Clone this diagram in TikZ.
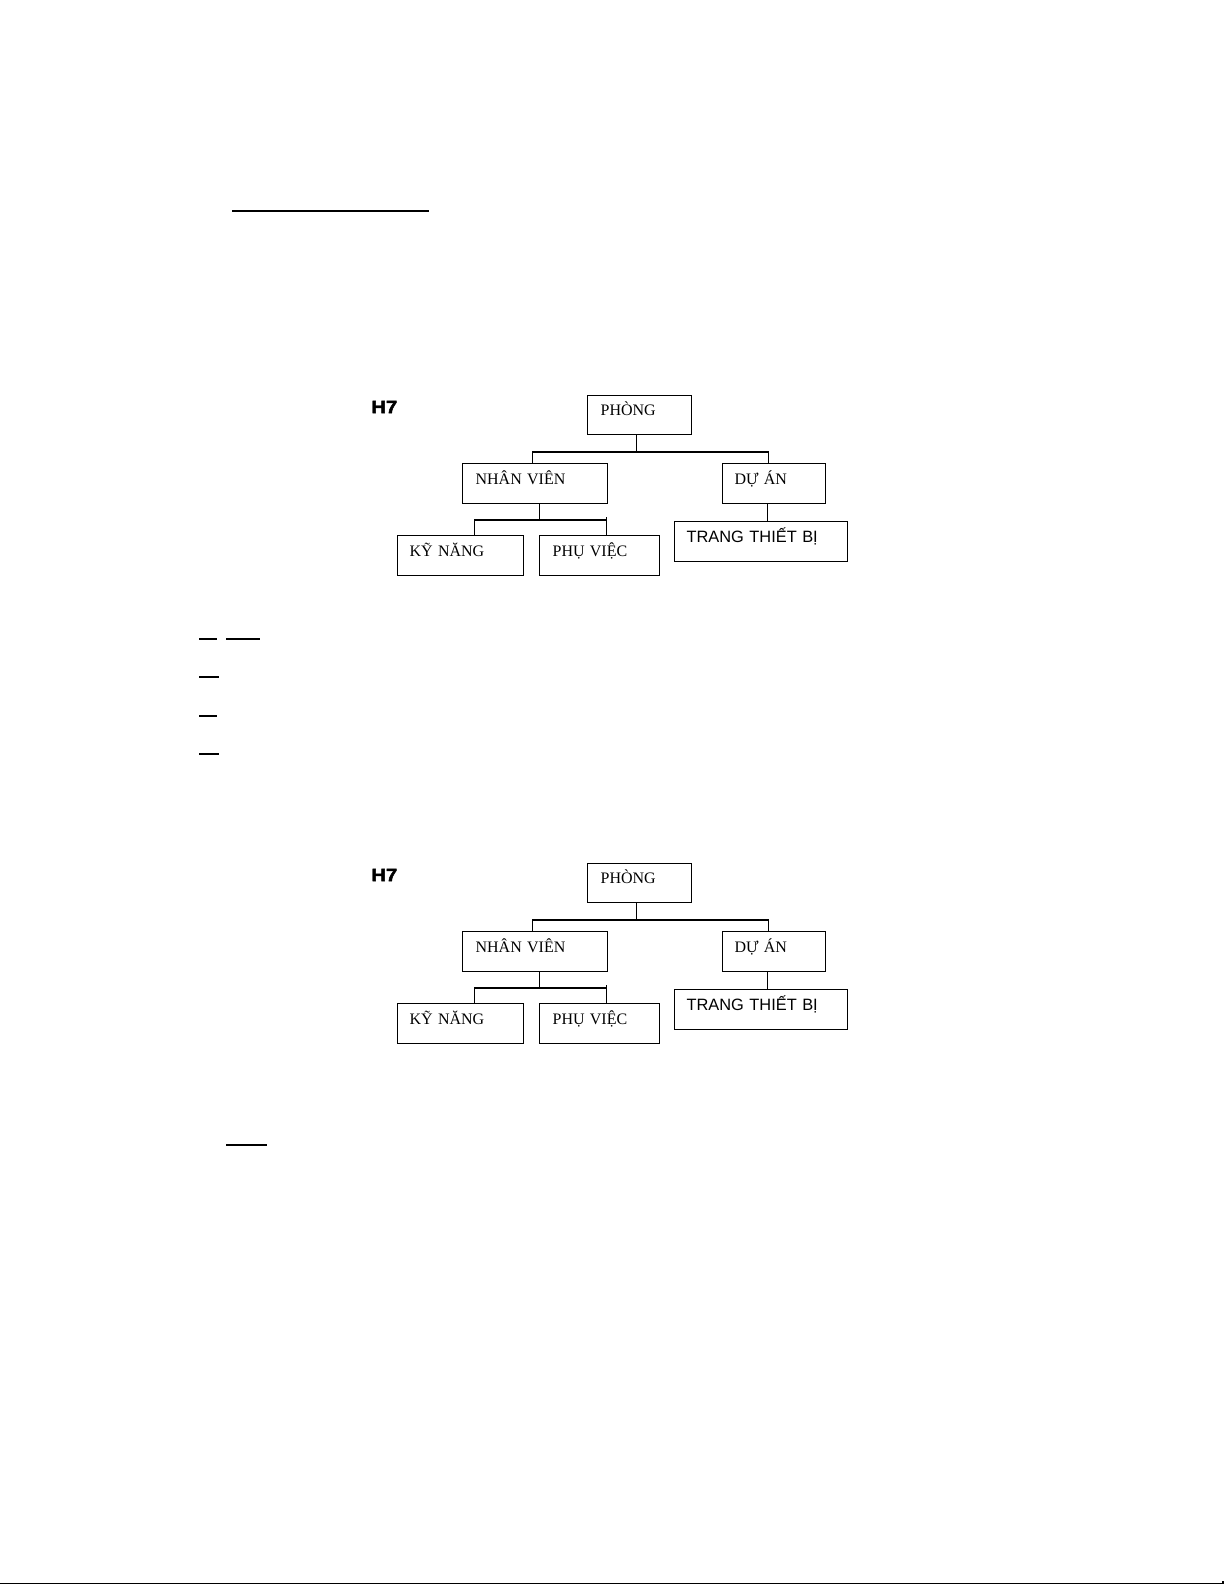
\documentclass[tikz,border=0pt]{standalone}
\usepackage{fontspec}
\setmainfont{Liberation Serif}
\newfontfamily\arialf{Liberation Sans}
\usetikzlibrary{calc}
\tikzset{
  box/.style={draw, line width=0.6pt, anchor=north west, inner ysep=0pt, align=left,
    minimum height=20pt, font=\fontsize{8}{9}\selectfont, text height=6pt, text depth=5.6pt},
  sansbox/.style={box, font=\arialf\fontsize{8.2}{9}\selectfont, text height=6.5pt},
  conn/.style={line width=0.55pt},
  rule/.style={line width=0.6pt},
  thickrule/.style={line width=1pt},
  heading/.style={font=\arialf\bfseries\fontsize{9}{10}\selectfont\addfontfeatures{FakeBold=2.5,FakeStretch=1.12}, anchor=west, inner sep=0pt}
}
\newcommand\orgchart[2]{%
\begin{scope}[yshift=#2]
  \node[heading] (#1h7) at (371,407) {H7};
  \node[box, inner xsep=6.5pt, text width=39pt, minimum height=19.5pt] (#1phong) at (587,395) {PHÒNG};
  \node[box, inner xsep=6.5pt, text width=59.5pt] (#1nv) at (462,463) {NHÂN VIÊN};
  \node[box, inner xsep=6pt, text width=39.5pt] (#1da) at (722,463) {DỰ ÁN};
  \node[box, inner xsep=6pt, text width=51pt] (#1kn) at (397,535) {KỸ NĂNG};
  \node[box, inner xsep=6.5pt, text width=47pt] (#1pv) at (539,535) {PHỤ VIỆC};
  \node[sansbox, inner xsep=6pt, text width=74.5pt] (#1ttb) at (674,521) {TRANG THIẾT BỊ};
  % level 1
  \draw[conn] ([xshift=-1.5pt]#1phong.south) -- ++(0,18);
  \draw[conn] ([xshift=-1.25pt]#1nv.north) -- ++(0,-11) -| ([xshift=-2.75pt]#1da.north);
  % level 2 left
  \draw[conn] ([xshift=2.25pt]#1nv.south) -- ++(0,17);
  \draw[conn] ([xshift=7pt]#1kn.north) |- ([xshift=3.5pt,yshift=7.5pt]#1pv.north) -- ([xshift=3.5pt]#1pv.north);
  \draw[conn] ([xshift=3.5pt]#1pv.north) -- ++(0,-18);
  % level 2 right
  \draw[conn] ([xshift=-3.25pt]#1da.south) -- ([xshift=-3.25pt]#1da.south |- #1ttb.north);
\end{scope}}
\begin{document}
\begin{tikzpicture}[x=0.5pt, y=-0.5pt]
  \useasboundingbox (0,0) rectangle (1225,1585);
  \fill[white] (0,0) rectangle (1225,1585);
  % rules
  \draw[rule] (232,211) -- (429,211);
  \draw[rule] (199,639) -- (217,639);
  \draw[rule] (226,639) -- (260,639);
  \draw[rule] (199,677) -- (219,677);
  \draw[thickrule] (199,716) -- (217,716);
  \draw[thickrule] (199,754) -- (219,754);
  \draw[thickrule] (226,1145) -- (267,1145);
  \draw[rule] (0,1583.8) -- (1223,1583.8) -- (1223,1581);
  % charts
  \orgchart{a}{0pt}
  \orgchart{b}{-234pt}
\end{tikzpicture}
\end{document}
